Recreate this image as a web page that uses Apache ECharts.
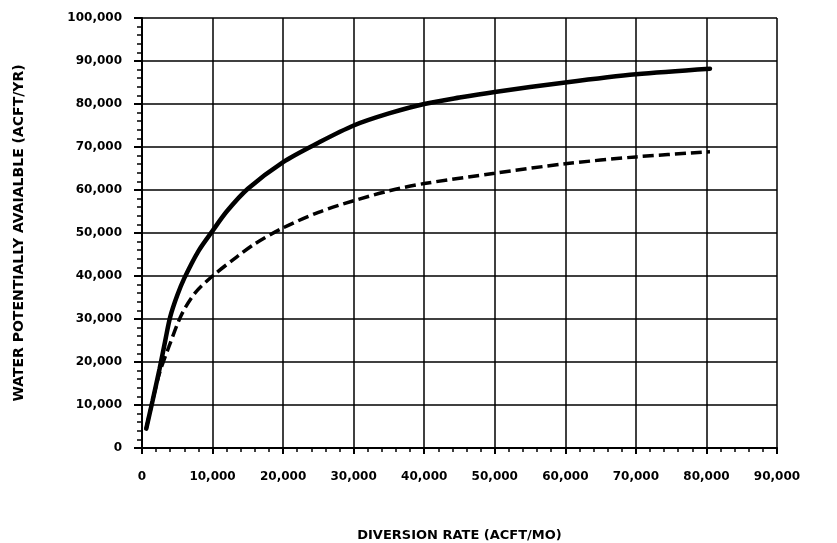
<!DOCTYPE html>
<html>
<head>
<meta charset="utf-8">
<script src="https://cdn.jsdelivr.net/npm/echarts@6/dist/echarts.min.js"></script>
<style>
  html, body { margin: 0; padding: 0; background: #fff; }
  #chart { width: 837px; height: 543px; }
</style>
</head>
<body>
<div id="chart"></div>
<script>
const xTicks = [0, 10000, 20000, 30000, 40000, 50000, 60000, 70000, 80000, 90000];
const yTicks = [0, 10000, 20000, 30000, 40000, 50000, 60000, 70000, 80000, 90000, 100000];

// solid curve
const solidRate = [600, 1500, 2500, 3300, 4000, 5000, 6000, 8000, 10000, 12000, 15000, 20000, 25000, 30000, 35000, 40000, 45000, 50000, 60000, 70000, 80500];
const solidWater = [4500, 11000, 18500, 25000, 30500, 35500, 39500, 45800, 50500, 55000, 60300, 66500, 71000, 75000, 77800, 80000, 81500, 82800, 85000, 86900, 88200];

// dashed curve
const dashedRate = [600, 1500, 2500, 3800, 5600, 7500, 10000, 13400, 16000, 20000, 25000, 30000, 35000, 40000, 50000, 60000, 70000, 80500];
const dashedWater = [4500, 11000, 17500, 23500, 31000, 36000, 40000, 44400, 47500, 51200, 54800, 57500, 59800, 61500, 63900, 66100, 67700, 68900];

const xTitle = "DIVERSION RATE (ACFT/MO)";
const yTitle = "WATER POTENTIALLY AVAIALBLE (ACFT/YR)";

function zip(xs, ys) {
  return xs.map((x, i) => [x, ys[i]]);
}

function formatThousands(value) {
  return Number(value).toLocaleString("en-US");
}

const labelFont = {
  color: "#000",
  fontFamily: "DejaVu Sans",
  fontWeight: "bold",
  fontSize: 12
};

const chart = echarts.init(document.getElementById("chart"));

chart.setOption({
  animation: false,
  backgroundColor: "#fff",
  grid: {
    left: 142,
    right: 60,
    top: 18,
    bottom: 95,
    outerBoundsMode: "none"
  },
  xAxis: {
    type: "value",
    min: xTicks[0],
    max: xTicks[xTicks.length - 1],
    interval: xTicks[1] - xTicks[0],
    name: xTitle,
    nameLocation: "middle",
    nameGap: 81,
    nameTextStyle: { ...labelFont, fontSize: 13 },
    axisLine: { show: true, lineStyle: { color: "#000", width: 2 } },
    axisTick: { show: true, length: 6, lineStyle: { color: "#000", width: 2 } },
    minorTick: { show: true, splitNumber: 5, length: 4, lineStyle: { color: "#000", width: 1.5 } },
    axisLabel: { ...labelFont, margin: 23, formatter: formatThousands },
    splitLine: { show: true, lineStyle: { color: "#000", width: 1.5 } }
  },
  yAxis: {
    type: "value",
    min: yTicks[0],
    max: yTicks[yTicks.length - 1],
    interval: yTicks[1] - yTicks[0],
    name: yTitle,
    nameLocation: "middle",
    nameGap: 116,
    nameTextStyle: { ...labelFont, fontSize: 14 },
    axisLine: { show: true, lineStyle: { color: "#000", width: 2 } },
    axisTick: { show: true, length: 8, lineStyle: { color: "#000", width: 2 } },
    minorTick: { show: true, splitNumber: 5, length: 5, lineStyle: { color: "#000", width: 1.5 } },
    axisLabel: { ...labelFont, margin: 20, formatter: formatThousands },
    splitLine: { show: true, lineStyle: { color: "#000", width: 1.5 } }
  },
  series: [
    {
      name: "solid",
      type: "line",
      data: zip(solidRate, solidWater),
      smooth: 0.3,
      symbol: "none",
      lineStyle: { color: "#000", width: 4.5, cap: "round" }
    },
    {
      name: "dashed",
      type: "line",
      data: zip(dashedRate, dashedWater),
      smooth: 0.3,
      symbol: "none",
      lineStyle: { color: "#000", width: 3.5, type: [11, 5] }
    }
  ]
});
</script>
</body>
</html>
